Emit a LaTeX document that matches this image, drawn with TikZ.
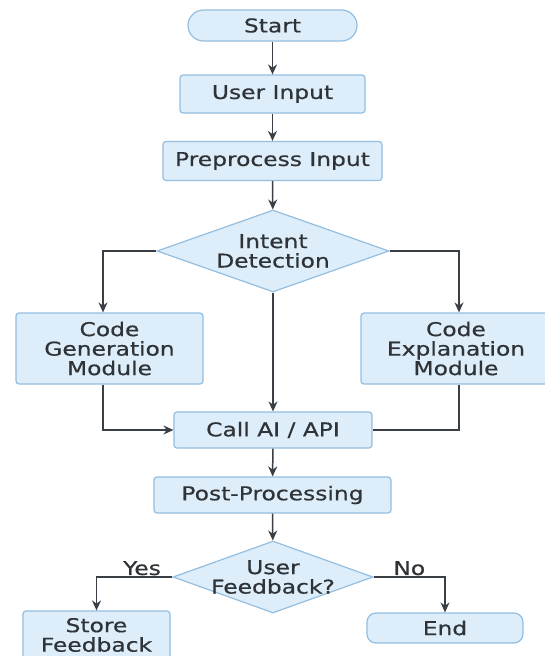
\documentclass[tikz,border=0pt]{standalone}
\usepackage{fontspec}
\setmainfont{DejaVu Sans}[FakeStretch=1.23,FakeBold=0.6]
\usetikzlibrary{shapes.geometric,arrows.meta}
\definecolor{boxfill}{HTML}{DDEEFA}
\definecolor{boxline}{HTML}{94BEE0}
\definecolor{linkcol}{HTML}{3A3F46}
\definecolor{txtcol}{HTML}{2F3337}

\begin{document}
\begin{tikzpicture}[x=1pt,y=-1pt,
  every node/.style={font=\fontsize{19}{19.5}\selectfont, text=txtcol},
  stepbox/.style={draw=boxline, fill=boxfill, line width=1.2pt, rounded corners=3pt, align=center, inner sep=0pt},
  decision/.style={diamond, draw=boxline, fill=boxfill, line width=1.2pt, align=center, inner sep=0pt},
  arr/.style={draw=linkcol, line width=1.5pt, -{Stealth[length=10pt,width=9pt]}},
  link/.style={draw=linkcol, line width=1.5pt}]
  \useasboundingbox (0,0) rectangle (545,656);
  \clip (0,0) rectangle (545,656);
  \fill[white] (0,0) rectangle (545,656);

  \node[stepbox, rounded corners=15.5pt, minimum width=169pt, minimum height=31pt] (start) at (272.5,25.5) {Start};
  \node[stepbox, minimum width=185pt, minimum height=38pt] (input) at (272.5,94) {User Input};
  \node[stepbox, minimum width=219pt, minimum height=39pt] (prep) at (272.5,161) {Preprocess Input};
  \node[decision, aspect=2.83, minimum width=232pt, minimum height=82pt] (intent) at (273,251) {Intent\\Detection};
  \node[stepbox, minimum width=187pt, minimum height=71pt] (codegen) at (109.5,348.5) {Code\\Generation\\Module};
  \node[stepbox, minimum width=190pt, minimum height=71pt] (codeexp) at (456,348.5) {Code\\Explanation\\Module};
  \node[stepbox, minimum width=198pt, minimum height=36pt] (callai) at (273,430) {Call AI / API};
  \node[stepbox, minimum width=237pt, minimum height=36pt] (post) at (272.5,495) {Post-Processing};
  \node[decision, aspect=2.78, inner sep=-12pt, minimum width=200pt, minimum height=72pt] (feedback) at (273,577) {User\\Feedback?};
  \node[stepbox, minimum width=147pt, minimum height=48pt] (store) at (96.5,635) {Store\\Feedback};
  \node[stepbox, rounded corners=9pt, minimum width=156pt, minimum height=30pt] (end) at (445,628) {End};

  \draw[arr] (start) -- (input);
  \draw[arr] (input) -- (prep);
  \draw[arr] (prep) -- (intent);
  \draw[arr] (intent.west) -| ([xshift=-6.5pt]codegen.north);
  \draw[arr] (intent.east) -| ([xshift=3pt]codeexp.north);
  \draw[arr] (intent) -- (callai);
  \draw[arr] ([xshift=-6.5pt]codegen.south) |- (callai.west);
  \draw[link] ([xshift=3pt]codeexp.south) |- (callai.east);
  \draw[arr] (callai) -- (post);
  \draw[arr] (post) -- (feedback);
  \draw[arr] (feedback.west) -| node[pos=0.2, above, inner sep=1pt] (yes) {Yes} (store.north);
  \draw[arr] (feedback.east) -| node[pos=0.25, above, inner sep=1pt] (no) {No} (end.north);
\end{tikzpicture}
\end{document}
